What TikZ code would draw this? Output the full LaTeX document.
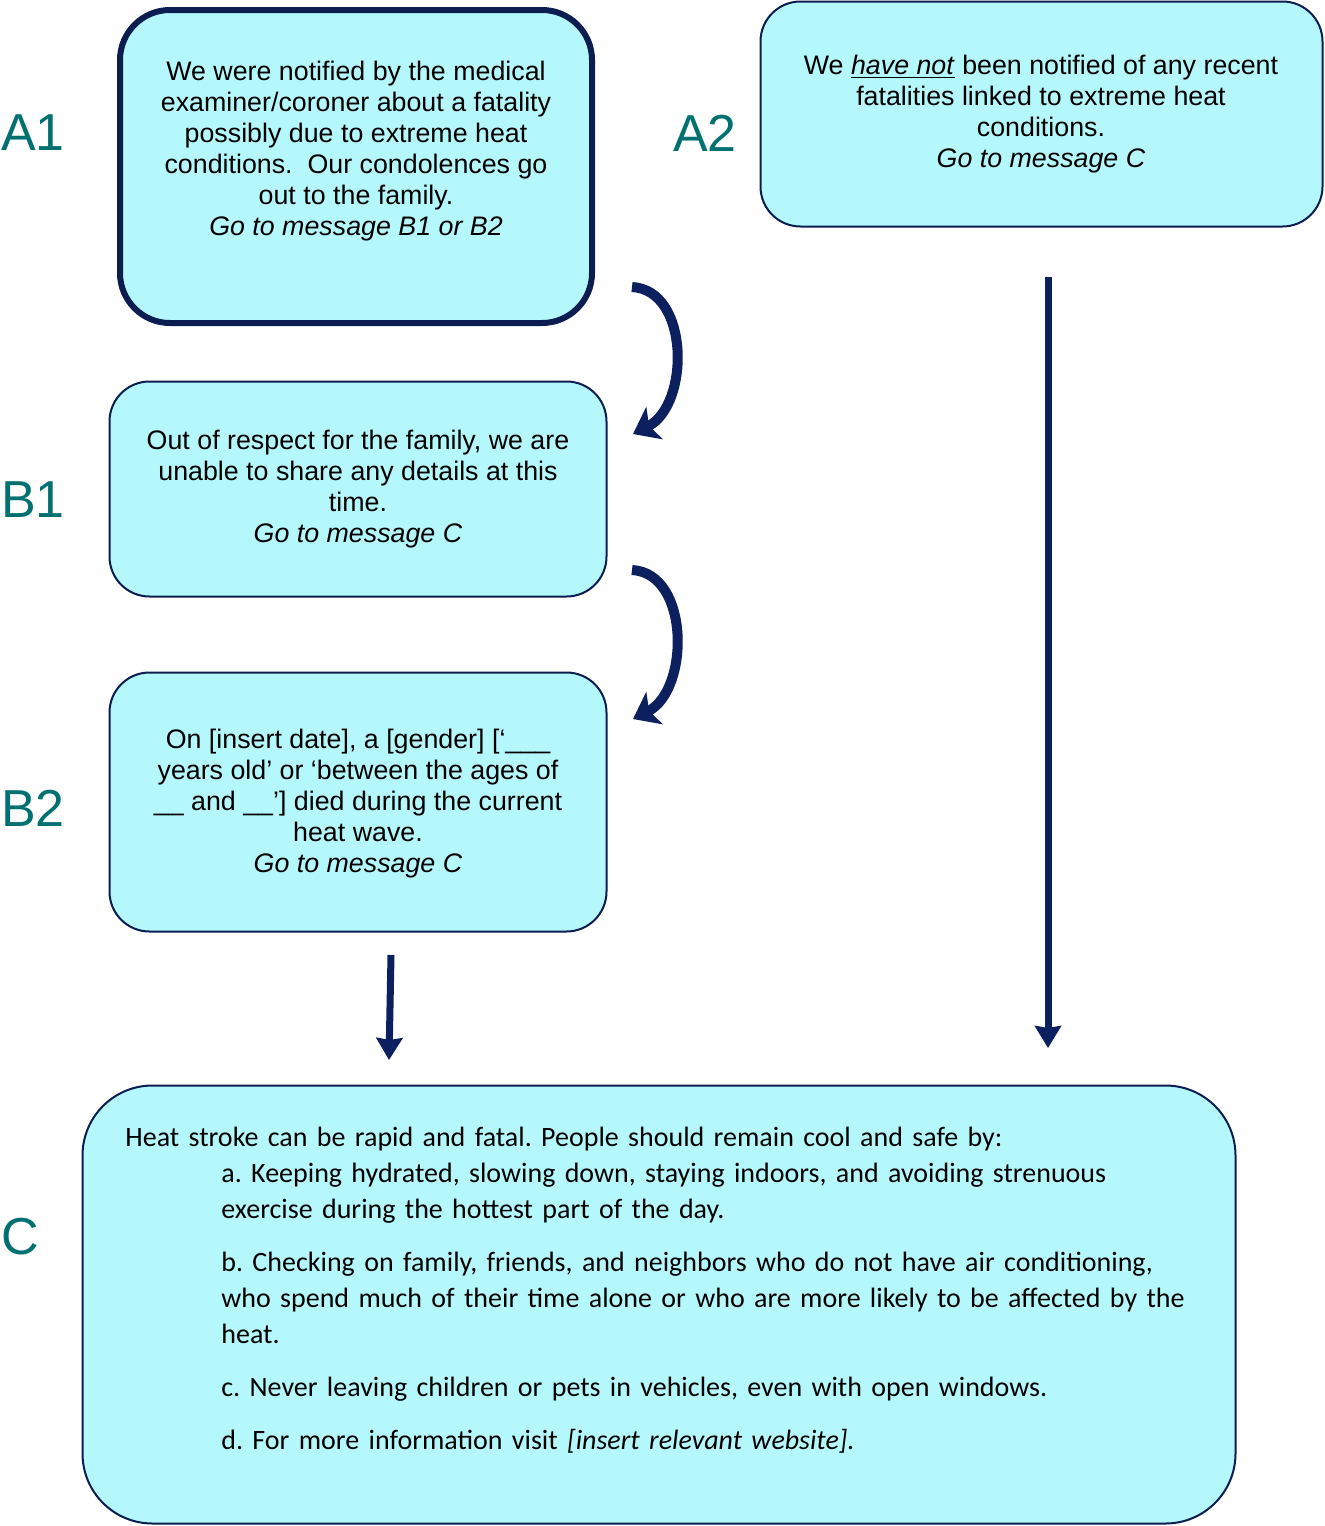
\documentclass[tikz,border=0pt]{standalone}
\usepackage{fontspec}
\setmainfont{Liberation Sans}
\newfontfamily\calibri{Carlito}
\usetikzlibrary{arrows.meta}
\definecolor{msgfill}{HTML}{B5F8FC}
\definecolor{msgline}{HTML}{0B1D51}
\definecolor{arrowline}{HTML}{0C1F5E}
\definecolor{tagcolor}{HTML}{007070}
\tikzset{
  msgblk/.style = {rectangle, rounded corners=20pt, draw=msgline, fill=msgfill,
                   line width=1pt, inner sep=0pt},
  msgtxt/.style = {align=center, font=\fontsize{13.4}{15.5}\selectfont, inner sep=0pt},
  ctxt/.style   = {font=\calibri\fontsize{14}{18}\selectfont, text width=580pt,
                   inner sep=0pt, execute at begin node={\raggedright\parindent=0pt}},
  tag/.style    = {font=\fontsize{26}{30}\selectfont, text=tagcolor, inner sep=0pt},
  curvearrow/.style = {draw=arrowline, line width=5pt,
                   -{Stealth[length=12pt, width=18pt, inset=3pt]}},
  flow/.style   = {draw=arrowline, line width=3.5pt,
                   -{Stealth[length=11pt, width=13pt, inset=1pt]}},
}
\frenchspacing
\begin{document}
\begin{tikzpicture}[x=0.5pt, y=-0.5pt]
\useasboundingbox (0,0) rectangle (1324,1526);

% message boxes
\node[msgblk, line width=3pt, rounded corners=25pt, minimum width=236pt,
      minimum height=156.5pt] (a1) at (356,166.5) {};
\node[msgblk, minimum width=281pt, minimum height=112.5pt] (a2) at (1041.5,114) {};
\node[msgblk, minimum width=248.5pt, minimum height=107.5pt] (b1) at (358,489) {};
\node[msgblk, minimum width=248.5pt, minimum height=129.5pt] (b2) at (358,802) {};
\node[msgblk, rounded corners=35pt, minimum width=576.5pt,
      minimum height=219pt] (c) at (659,1304.5) {};

% texts
\node[msgtxt] (a1txt) at (356,151) {We were notified by the medical\\
  examiner/coroner about a fatality\\ possibly due to extreme heat\\
  conditions.\ \ Our condolences go\\ out to the family.\\
  \textit{Go to message B1 or B2}};
\node[msgtxt] (a2txt) at (1041,114) {We \underline{\textit{have not}} been notified of any recent\\
  fatalities linked to extreme heat\\ conditions.\\ \textit{Go to message C}};
\node[msgtxt] (b1txt) at (358,489) {Out of respect for the family, we are\\
  unable to share any details at this\\ time.\\ \textit{Go to message C}};
\node[msgtxt] (b2txt) at (358,804) {On [insert date], a [gender] [‘\_\_\_\\
  years old’ or ‘between the ages of\\ \_\_ and \_\_’] died during the current\\
  heat wave.\\ \textit{Go to message C}};
\node[ctxt, anchor=north west] (ctxt) at (125,1127) {%
  Heat stroke can be rapid and fatal. People should remain cool and safe by:\par
  \leftskip=48pt
  a. Keeping hydrated, slowing down, staying indoors, and avoiding strenuous\newline
  exercise during the hottest part of the day.\par\vspace{8.5pt}
  b. Checking on family, friends, and neighbors who do not have air conditioning,\newline
  who spend much of their time alone or who are more likely to be affected by the\newline
  heat.\par\vspace{8.5pt}
  c. Never leaving children or pets in vehicles, even with open windows.\par\vspace{8.5pt}
  d. For more information visit \textit{[insert relevant website].}\par};

% tags
\node[tag] (a1tag) at (33,133) {A1};
\node[tag] (a2tag) at (705,133) {A2};
\node[tag] (b1tag) at (33,500) {B1};
\node[tag] (b2tag) at (33,808) {B2};
\node[tag] (ctag) at (20,1237) {C};

% arrows
\coordinate (a1out) at (632,287);
\coordinate (b1in) at (633,434);
\coordinate (b1out) at (632,570);
\coordinate (b2in) at (633,719);
\coordinate (b2out) at (391,955);
\coordinate (cin) at (389,1060);
\coordinate (a2out) at (1048,277);
\coordinate (cin2) at (1048,1048);

\draw[curvearrow] (a1out) .. controls (690,290) and (690,405) .. (b1in);
\draw[curvearrow] (b1out) .. controls (690,573) and (690,690) .. (b2in);
\draw[flow] (b2out) -- (cin);
\draw[flow] (a2out) -- (cin2);
\end{tikzpicture}
\end{document}
